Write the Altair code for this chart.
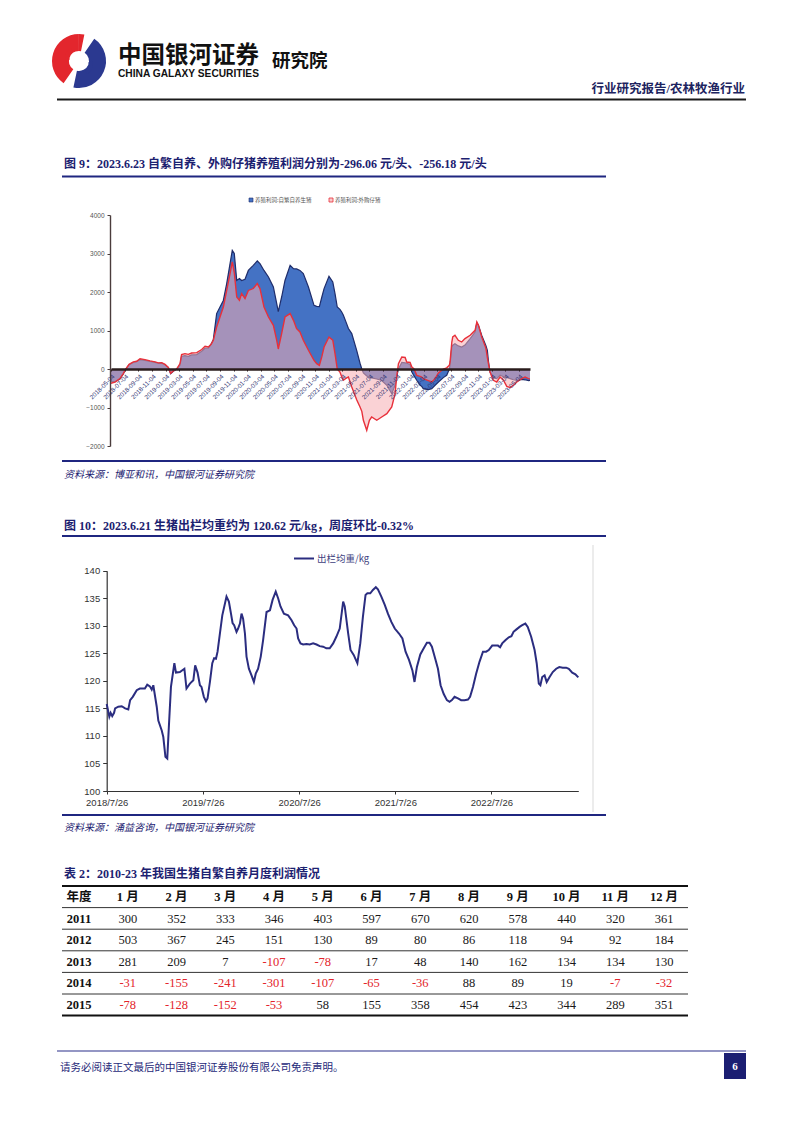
import altair as alt
import pandas as pd

# ---------------- data ----------------
# Figure 9: breeding profit (yuan/head)
profit_dates = [
    "2018-05-04", "2018-05-22", "2018-06-13", "2018-06-28", "2018-07-09", "2018-07-24", "2018-08-12", "2018-08-27",
    "2018-09-11", "2018-10-03", "2018-10-26", "2018-11-17", "2018-12-02", "2018-12-17", "2019-01-01", "2019-01-16",
    "2019-01-26", "2019-02-07", "2019-02-22", "2019-03-09", "2019-03-16", "2019-03-31", "2019-04-15", "2019-04-30",
    "2019-05-23", "2019-06-14", "2019-06-29", "2019-07-14", "2019-07-26", "2019-08-05", "2019-08-20", "2019-09-04",
    "2019-09-19", "2019-10-04", "2019-10-19", "2019-10-29", "2019-11-07", "2019-11-18", "2019-11-30", "2019-12-10",
    "2019-12-25", "2020-01-09", "2020-01-31", "2020-02-18", "2020-03-01", "2020-03-19", "2020-04-08", "2020-04-30",
    "2020-05-15", "2020-05-22", "2020-06-06", "2020-06-21", "2020-07-14", "2020-07-29", "2020-08-12", "2020-08-27",
    "2020-09-11", "2020-10-04", "2020-10-29", "2020-11-10", "2020-11-22", "2020-12-03", "2020-12-13", "2021-01-04",
    "2021-01-21", "2021-01-31", "2021-02-10", "2021-02-22", "2021-03-02", "2021-03-09", "2021-03-24", "2021-04-01",
    "2021-04-16", "2021-05-08", "2021-05-23", "2021-05-31", "2021-06-07", "2021-06-22", "2021-07-04", "2021-07-14",
    "2021-08-06", "2021-08-28", "2021-09-20", "2021-10-12", "2021-10-27", "2021-11-03", "2021-11-11", "2021-11-26",
    "2021-12-11", "2021-12-18", "2022-01-02", "2022-01-10", "2022-01-20", "2022-02-01", "2022-02-16", "2022-02-23",
    "2022-03-02", "2022-03-25", "2022-04-09", "2022-04-24", "2022-05-09", "2022-05-31", "2022-06-15", "2022-06-27",
    "2022-06-30", "2022-07-08", "2022-07-12", "2022-07-22", "2022-08-06", "2022-08-21", "2022-09-05", "2022-09-28",
    "2022-10-20", "2022-10-28", "2022-11-04", "2022-11-19", "2022-12-04", "2022-12-08", "2022-12-14", "2022-12-19",
    "2022-12-26", "2023-01-03", "2023-01-10", "2023-01-25", "2023-02-09", "2023-02-24", "2023-03-11", "2023-03-26",
    "2023-04-10", "2023-04-25", "2023-05-17", "2023-06-01", "2023-06-16", "2023-06-23",
]
profit_self = [
    -330, -330, -260, -130, 0, 110, 170, 190,
    245, 225, 195, 170, 145, 150, 110, 30,
    -120, -60, 0, 100, 330, 345, 330, 365,
    375, 460, 540, 540, 640, 760, 1440, 1610,
    1780, 2220, 2740, 3080, 3000, 2300, 2350, 2300,
    2330, 2560, 2690, 2806, 2737, 2560, 2390, 2130,
    1700, 1490, 1870, 2300, 2693, 2606, 2600, 2560,
    2477, 2130, 1654, 1628, 1620, 1870, 2088, 2407,
    2260, 1957, 1610, 1550, 1480, 1400, 1178, 1050,
    919, 486, 150, 0, -100, -180, -210, -230,
    -260, -300, -423, -639, -423, -200, 0, 170,
    160, 150, 120, -78, -180, -293, -423, -450,
    -510, -536, -510, -423, -338, -224, -164, 0,
    100, 571, 620, 658, 600, 571, 620, 789,
    961, 1200, 1135, 870, 658, 600, 486, 200,
    -80, -156, -230, -250, -164, -200, -220, -250,
    -280, -293, -270, -280, -300, -296.06,
]
profit_bought = [
    -370, -340, -250, -120, 0, 120, 185, 200,
    265, 245, 210, 185, 160, 165, 120, 40,
    -110, -50, 0, 140, 375, 400, 380, 415,
    425, 505, 590, 570, 640, 745, 1090, 1350,
    1610, 2040, 2480, 2780, 2500, 1870, 1784, 1960,
    1830, 2040, 2090, 2218, 2088, 1610, 1350, 1134,
    745, 520, 920, 1350, 1440, 1264, 1048, 961,
    745, 486, 226, 139, 96, 320, 571, 831,
    750, 400, 0, -78, -200, -293, -230, -208,
    -467, -800, -987, -1100, -1332, -1592, -1332, -1247,
    -1332, -1247, -1160, -987, -640, -208, 139, 312,
    300, 182, 170, 52, 0, -164, -190, -208,
    -250, -300, -338, -250, -104, 0, 30, 100,
    182, 700, 831, 875, 745, 701, 789, 875,
    1005, 1221, 1135, 831, 600, 529, 300, 139,
    -78, -200, -293, -338, -208, -293, -450, -484,
    -423, -338, -250, -208, -250, -256.18,
]
profit_ticks = [
    "2018-05-04", "2018-07-04", "2018-09-04", "2018-11-04", "2019-01-04", "2019-03-04", "2019-05-04", "2019-07-04",
    "2019-09-04", "2019-11-04", "2020-01-04", "2020-03-04", "2020-05-04", "2020-07-04", "2020-09-04", "2020-11-04",
    "2021-01-04", "2021-03-04", "2021-05-04", "2021-07-04", "2021-09-04", "2021-11-04", "2022-01-04", "2022-03-04",
    "2022-05-04", "2022-07-04", "2022-09-04", "2022-11-04", "2023-01-04", "2023-03-04", "2023-05-04",
]
profit_y_ticks = [-2000, -1000, 0, 1000, 2000, 3000, 4000]
profit_series = ["养殖利润:自繁自养生猪", "养殖利润:外购仔猪"]

# Figure 10: average slaughter weight (kg)
weight_dates = [
    "2018-07-26", "2018-08-05", "2018-08-10", "2018-08-16", "2018-08-23", "2018-08-27", "2018-09-08", "2018-09-21",
    "2018-10-04", "2018-10-16", "2018-10-23", "2018-11-02", "2018-11-17", "2018-11-29", "2018-12-18", "2018-12-27",
    "2019-01-06", "2019-01-13", "2019-01-19", "2019-02-01", "2019-02-07", "2019-02-20", "2019-02-26", "2019-03-06",
    "2019-03-13", "2019-03-19", "2019-03-27", "2019-04-09", "2019-04-15", "2019-04-30", "2019-05-17", "2019-05-25",
    "2019-06-07", "2019-06-20", "2019-06-27", "2019-07-06", "2019-07-15", "2019-07-21", "2019-07-30", "2019-08-07",
    "2019-08-13", "2019-08-22", "2019-08-31", "2019-09-07", "2019-09-14", "2019-09-20", "2019-09-29", "2019-10-08",
    "2019-10-24", "2019-11-02", "2019-11-10", "2019-11-16", "2019-11-22", "2019-12-01", "2019-12-07", "2019-12-14",
    "2019-12-20", "2019-12-26", "2020-01-02", "2020-01-08", "2020-01-17", "2020-01-27", "2020-02-05", "2020-02-12",
    "2020-02-21", "2020-03-02", "2020-03-11", "2020-03-24", "2020-04-06", "2020-04-16", "2020-04-28", "2020-05-07",
    "2020-05-16", "2020-05-29", "2020-06-14", "2020-06-27", "2020-07-07", "2020-07-16", "2020-07-22", "2020-07-31",
    "2020-08-10", "2020-08-23", "2020-09-04", "2020-09-17", "2020-09-30", "2020-10-12", "2020-10-25", "2020-11-06",
    "2020-11-19", "2020-12-02", "2020-12-14", "2020-12-27", "2021-01-09", "2021-01-15", "2021-01-28", "2021-02-06",
    "2021-02-18", "2021-03-04", "2021-03-15", "2021-03-25", "2021-04-04", "2021-04-11", "2021-04-22", "2021-05-02",
    "2021-05-13", "2021-05-21", "2021-06-03", "2021-06-16", "2021-06-28", "2021-07-11", "2021-07-24", "2021-08-09",
    "2021-08-22", "2021-09-03", "2021-09-16", "2021-09-29", "2021-10-07", "2021-10-16", "2021-10-29", "2021-11-11",
    "2021-11-23", "2021-12-03", "2021-12-12", "2021-12-26", "2022-01-04", "2022-01-14", "2022-01-26", "2022-02-07",
    "2022-02-17", "2022-02-26", "2022-03-08", "2022-03-21", "2022-04-02", "2022-04-15", "2022-04-28", "2022-05-06",
    "2022-05-17", "2022-05-29", "2022-06-11", "2022-06-24", "2022-07-06", "2022-07-16", "2022-07-29", "2022-08-07",
    "2022-08-20", "2022-08-28", "2022-09-05", "2022-09-18", "2022-09-30", "2022-10-10", "2022-10-18", "2022-10-28",
    "2022-11-10", "2022-11-20", "2022-12-02", "2022-12-11", "2022-12-24", "2023-01-06", "2023-01-14", "2023-01-22",
    "2023-01-28", "2023-02-04", "2023-02-13", "2023-02-21", "2023-03-04", "2023-03-16", "2023-03-29", "2023-04-10",
    "2023-04-23", "2023-05-06", "2023-05-16", "2023-05-29", "2023-06-10", "2023-06-21",
]
weight_values = [
    115.8, 113.5, 114.2, 113.6, 114.2, 115.0, 115.3, 115.4,
    115.0, 114.8, 116.5, 117.1, 118.3, 118.6, 118.6, 119.3,
    119.0, 118.4, 119.2, 115.3, 112.8, 111.0, 109.8, 106.2,
    105.9, 111.6, 118.9, 123.2, 121.5, 121.6, 122.2, 118.6,
    119.5, 120.1, 122.8, 121.5, 119.2, 118.9, 117.1, 116.3,
    116.8, 119.8, 123.2, 124.1, 124.0, 125.3, 128.6, 131.9,
    135.3, 134.4, 132.2, 130.5, 130.1, 128.9, 129.5, 130.4,
    132.2, 131.3, 128.6, 124.4, 122.2, 121.0, 119.8, 121.3,
    122.2, 124.4, 127.4, 132.5, 132.8, 134.7, 136.2, 135.0,
    133.5, 132.2, 131.9, 131.0, 130.1, 129.5, 127.7, 126.8,
    126.6, 126.7, 126.6, 126.8, 126.6, 126.3, 126.2, 125.9,
    125.9, 126.8, 128.0, 129.5, 134.4, 133.5, 128.6, 125.6,
    124.7, 123.2, 126.8, 131.6, 135.6, 135.9, 135.9, 136.5,
    137.0, 136.6, 135.3, 133.8, 132.2, 130.7, 129.5, 128.6,
    127.7, 125.3, 123.8, 121.9, 119.8, 122.5, 124.8, 125.9,
    126.9, 126.9, 126.2, 123.8, 122.2, 119.2, 117.6, 116.5,
    116.2, 116.5, 117.1, 116.8, 116.5, 116.5, 116.6, 117.1,
    118.9, 121.3, 123.5, 125.3, 125.3, 125.6, 126.4, 126.4,
    126.4, 126.1, 126.8, 127.4, 127.9, 128.1, 128.9, 129.3,
    129.8, 130.1, 130.4, 129.8, 128.0, 125.6, 123.2, 119.5,
    119.2, 120.7, 121.0, 119.8, 120.7, 121.6, 122.2, 122.5,
    122.4, 122.4, 122.2, 121.5, 121.2, 120.62,
]
weight_ticks = ["2018-07-26", "2019-07-26", "2020-07-26", "2021-07-26", "2022-07-26"]
weight_y_ticks = [100, 105, 110, 115, 120, 125, 130, 135, 140]
weight_series = "出栏均重/kg"

# Table 2: monthly profit of self-breeding pigs
table_months = ["1 月", "2 月", "3 月", "4 月", "5 月", "6 月", "7 月", "8 月", "9 月", "10 月", "11 月", "12 月"]
table_years = ["2011", "2012", "2013", "2014", "2015"]
table_2011 = [300, 352, 333, 346, 403, 597, 670, 620, 578, 440, 320, 361]
table_2012 = [503, 367, 245, 151, 130, 89, 80, 86, 118, 94, 92, 184]
table_2013 = [281, 209, 7, -107, -78, 17, 48, 140, 162, 134, 134, 130]
table_2014 = [-31, -155, -241, -301, -107, -65, -36, 88, 89, 19, -7, -32]
table_2015 = [-78, -128, -152, -53, 58, 155, 358, 454, 423, 344, 289, 351]

# ---------------- layout helpers ----------------
W, H = 786, 1117
OX, OY = 8, 8


def X(x):
    return x - OX


def Y(y):
    return y - OY


NAVY_T = "#1c2170"
NAVY_L = "#1f2680"
SERIF = "Liberation Serif, Noto Sans CJK SC"
CJK = "Noto Sans CJK SC"

one = pd.DataFrame({"k": [0]})
deco = []


def add_text(s, x, y, size, color, weight="normal", font=SERIF, align="left", baseline="alphabetic", style="normal"):
    deco.append(
        alt.Chart(one)
        .mark_text(text=s, fontSize=size, color=color, fontWeight=weight, font=font,
                   align=align, baseline=baseline, fontStyle=style)
        .encode(x=alt.value(X(x)), y=alt.value(Y(y)))
    )


def add_hrule(x1, x2, y, color, w):
    deco.append(
        alt.Chart(one).mark_rule(color=color, strokeWidth=w)
        .encode(x=alt.value(X(x1)), x2=alt.value(X(x2)), y=alt.value(Y(y)))
    )


def add_vrule(x, y1, y2, color, w):
    deco.append(
        alt.Chart(one).mark_rule(color=color, strokeWidth=w)
        .encode(x=alt.value(X(x)), y=alt.value(Y(y1)), y2=alt.value(Y(y2)))
    )


def add_rect(x1, y1, x2, y2, fill, stroke=None, sw=1):
    kw = dict(fill=fill)
    if stroke:
        kw.update(stroke=stroke, strokeWidth=sw)
    deco.append(
        alt.Chart(one).mark_rect(**kw)
        .encode(x=alt.value(X(x1)), x2=alt.value(X(x2)), y=alt.value(Y(y1)), y2=alt.value(Y(y2)))
    )


def add_arc(cx, cy, r, r2, t1, t2, color):
    deco.append(
        alt.Chart(one).mark_arc(color=color, radius=r, radius2=r2, theta=t1, theta2=t2)
        .encode(x=alt.value(X(cx)), y=alt.value(Y(cy)))
    )


# ---------------- page header ----------------
add_arc(79, 61, 27, 10, 0.6, 3.35, "#2b3990")
add_arc(79, 61, 27, 10, 3.75, 6.28, "#e3262d")
add_arc(79, 61, 27, 10, 0.0, 0.2, "#e3262d")
add_arc(74, 57, 9, 5, 4.2, 6.0, "#e3262d")
add_arc(84, 65, 9, 5, 1.05, 2.85, "#2b3990")
add_text("中国银河证券", 118, 63, 23.5, "#111111", "bold", CJK)
add_text("CHINA GALAXY SECURITIES", 118, 77, 10.2, "#111111", "bold", "Liberation Sans")
add_text("研究院", 272, 67, 18.5, "#111111", "bold", CJK)
add_text("行业研究报告/农林牧渔行业", 745, 93, 12.5, "#1d2460", "bold", SERIF, align="right")
add_hrule(57, 746, 99.5, "#1a1a1a", 2)

# ---------------- figure 9 frame ----------------
add_text("图 9：2023.6.23 自繁自养、外购仔猪养殖利润分别为-296.06 元/头、-256.18 元/头",
         64, 168, 12, NAVY_T, "bold", SERIF)
add_hrule(62, 606, 176.5, NAVY_L, 2)
add_rect(249, 198, 253, 202, "#4472c4", "#1f2d6b", 0.6)
add_text(profit_series[0], 255, 202, 5.5, "#555555", font=CJK)
add_rect(329, 198, 333, 202, "#f8c8cb", "#e8303a", 0.8)
add_text(profit_series[1], 335, 202, 5.5, "#555555", font=CJK)
add_hrule(62, 606, 461, NAVY_L, 2)
add_text("资料来源：博亚和讯，中国银河证券研究院", 64, 478, 10, NAVY_T, font=CJK, style="italic")

# ---------------- figure 10 frame ----------------
add_text("图 10：2023.6.21 生猪出栏均重约为 120.62 元/kg，周度环比-0.32%",
         64, 530, 12, NAVY_T, "bold", SERIF)
add_hrule(62, 606, 536, NAVY_L, 2)
add_hrule(294, 314, 558.5, "#2b2d80", 2)
add_text(weight_series, 317, 562, 9.5, "#3f3f80", font=CJK)
add_vrule(593, 545, 812, "#d9d9d9", 1)
add_hrule(62, 606, 815, NAVY_L, 2)
add_text("资料来源：涌益咨询，中国银河证券研究院", 64, 831, 10, NAVY_T, font=CJK, style="italic")

# ---------------- table title & footer ----------------
add_text("表 2：2010-23 年我国生猪自繁自养月度利润情况", 64, 878, 12, NAVY_T, "bold", SERIF)
add_hrule(57, 746, 1051, "#2a2f8a", 1.2)
add_text("请务必阅读正文最后的中国银河证券股份有限公司免责声明。", 60, 1071, 10.5, "#1f2a7a", font=CJK)
add_rect(724, 1053, 746, 1079, "#1b1e72")
add_text("6", 735, 1070, 11, "#ffffff", "bold", "Liberation Serif", align="center")


def dt(s):
    y, m, d = (int(p) for p in s.split("-"))
    return alt.DateTime(year=y, month=m, date=d)


# ---------------- figure 9 chart ----------------
c1 = pd.DataFrame({
    "date": [d + "T00:00:00" for d in profit_dates],
    "self": profit_self,
    "bought": profit_bought,
})
x1_scale = alt.Scale(domain=[dt("2018-05-04"), dt("2023-06-23")], range=[X(111), X(530)], nice=False)
x1_axis = alt.Axis(
    orient="bottom", offset=Y(369) - H, values=[dt(s) for s in profit_ticks], format="%Y-%m-%d",
    labelAngle=315, labelFontSize=6.3, labelColor="#2d3170", labelFont="Liberation Sans",
    labelPadding=2, labelFlush=False, labelOverlap=False,
    domainColor="#2a1c1c", domainWidth=2.4, tickColor="#2a1c1c", tickSize=2, tickWidth=1,
    grid=False, title=None, zindex=1,
)
y1_scale = alt.Scale(domain=[-2000, 4000], range=[Y(446), Y(215)], nice=False, zero=False)
y1_axis = alt.Axis(
    orient="left", offset=-X(110), values=profit_y_ticks, format="d",
    labelFontSize=6.5, labelColor="#555555", labelFont="Liberation Sans", labelPadding=3,
    domainColor="#4a3c3c", domainWidth=1.4, tickColor="#4a3c3c", tickSize=3,
    grid=False, title=None, zindex=1,
)
x1 = alt.X("date:T", scale=x1_scale, axis=x1_axis)
base1 = alt.Chart(c1)
blue_area = base1.mark_area(color="#4472c4").encode(
    x=x1, y=alt.Y("self:Q", scale=y1_scale, axis=y1_axis), y2=alt.datum(0),
)
blue_line = base1.mark_line(color="#1f2d6b", strokeWidth=1.2).encode(
    x=x1, y=alt.Y("self:Q", scale=y1_scale, axis=y1_axis),
)
pink_area = base1.mark_area(color="#f5adb2", opacity=0.55).encode(
    x=x1, y=alt.Y("bought:Q", scale=y1_scale, axis=y1_axis), y2=alt.datum(0),
)
red_line = base1.mark_line(color="#e8303a", strokeWidth=1.4).encode(
    x=x1, y=alt.Y("bought:Q", scale=y1_scale, axis=y1_axis),
)
chart1 = alt.layer(blue_area, blue_line, pink_area, red_line)

# ---------------- figure 10 chart ----------------
c2 = pd.DataFrame({"date": [d + "T00:00:00" for d in weight_dates], "weight": weight_values})
x2_scale = alt.Scale(domain=[dt("2018-07-26"), dt("2023-06-21")], range=[X(106.7), X(578.3)], nice=False)
x2_axis = alt.Axis(
    orient="bottom", offset=Y(791) - H, values=[dt(s) for s in weight_ticks], format="%Y/%-m/%-d",
    labelFontSize=9.5, labelColor="#333333", labelFont="Liberation Sans", labelPadding=3,
    labelFlush=False, labelOverlap=False,
    domainColor="#333333", domainWidth=1.2, tickColor="#333333", tickSize=3,
    grid=False, title=None,
)
y2_scale = alt.Scale(domain=[100, 140], range=[Y(791), Y(570.7)], nice=False, zero=False)
y2_axis = alt.Axis(
    orient="left", offset=-X(106.7), values=weight_y_ticks, format="d",
    labelFontSize=9.5, labelColor="#333333", labelFont="Liberation Sans", labelPadding=3,
    domainColor="#333333", domainWidth=1.2, tickColor="#333333", tickSize=4,
    grid=False, title=None,
)
chart2 = alt.Chart(c2).mark_line(color="#2b2d80", strokeWidth=2).encode(
    x=alt.X("date:T", scale=x2_scale, axis=x2_axis),
    y=alt.Y("weight:Q", scale=y2_scale, axis=y2_axis),
)

# ---------------- table ----------------
cols = ["年度"] + table_months
rows = ["年度"] + table_years
year_values = [table_2011, table_2012, table_2013, table_2014, table_2015]
cells = []
for yr, vals in zip(table_years, year_values):
    for m, v in zip(table_months, vals):
        cells.append({"row": yr, "col": m, "text": str(v), "color": "#e3242b" if v < 0 else "#1a1a1a"})
heads = [{"row": "年度", "col": c, "text": c} for c in cols] + \
        [{"row": yr, "col": "年度", "text": yr} for yr in table_years]
tx_scale = alt.Scale(type="point", domain=cols, range=[X(79), X(664)], padding=0)
ty_scale = alt.Scale(type="point", domain=rows, range=[Y(897), Y(1005)], padding=0)
tx = alt.X("col:N", scale=tx_scale, axis=None)
ty = alt.Y("row:N", scale=ty_scale, axis=None)

t_vals = alt.Chart(pd.DataFrame(cells)).mark_text(
    font="Liberation Serif", fontSize=12.5, baseline="middle", align="center"
).encode(x=tx, y=ty, text="text:N", color=alt.Color("color:N", scale=None))
t_heads = alt.Chart(pd.DataFrame(heads)).mark_text(
    font=SERIF, fontSize=12.5, fontWeight="bold", baseline="middle", align="center", color="#111111"
).encode(x=tx, y=ty, text="text:N")
rule_rows = pd.DataFrame({"row": rows})
t_top = alt.Chart(rule_rows.iloc[:1]).mark_rule(color="#111111", strokeWidth=2, yOffset=-11).encode(
    y=ty, x=alt.value(X(62)), x2=alt.value(X(688)))
t_mid = alt.Chart(rule_rows.iloc[:-1]).mark_rule(color="#333333", strokeWidth=1, yOffset=10.6).encode(
    y=ty, x=alt.value(X(62)), x2=alt.value(X(688)))
t_bot = alt.Chart(rule_rows.iloc[-1:]).mark_rule(color="#111111", strokeWidth=2, yOffset=10.5).encode(
    y=ty, x=alt.value(X(62)), x2=alt.value(X(688)))
table = alt.layer(t_top, t_mid, t_bot, t_heads, t_vals)

# ---------------- assemble ----------------
chart = (
    alt.layer(*deco, chart1, chart2, table)
    .resolve_scale(x="independent", y="independent")
    .properties(width=W, height=H, autosize=alt.AutoSizeParams(type="none"), padding=0)
    .configure_view(stroke=None)
)

chart.save("out.html", embed_options={"renderer": "svg", "actions": False})
